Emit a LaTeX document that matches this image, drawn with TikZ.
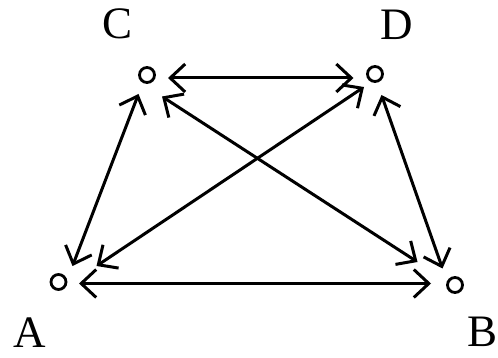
\documentclass[tikz,border=0pt]{standalone}
\usepackage{fontspec}
\setmainfont{Liberation Serif}
\usetikzlibrary{arrows.meta}
\begin{document}
\begin{tikzpicture}[x=1pt,y=-1pt,
  pt/.style={circle,draw,line width=2.8pt,minimum size=15pt,inner sep=0pt},
  lbl/.style={font=\fontsize{45}{45}\selectfont,inner sep=0pt},
  tip/.style={Straight Barb[length=15pt,width=28pt,line width=3pt]},
  link/.style={line width=3pt,{Straight Barb[length=15pt,width=28pt,line width=3pt]}-{Straight Barb[length=15pt,width=28pt,line width=3pt]}}]
\useasboundingbox (0,0) rectangle (498,358);
\node[pt] (A) at (58.5,282) {};
\node[pt] (B) at (455,285) {};
\node[pt] (C) at (147,75) {};
\node[pt] (D) at (375,74) {};
\node[lbl] (lA) at (30,333) {A};
\node[lbl] (lB) at (483,332) {B};
\node[lbl] (lC) at (118,24) {C};
\node[lbl] (lD) at (397,25) {D};
\coordinate (ab1) at (79,283.5);
\coordinate (ab2) at (431,283.5);
\coordinate (cd1) at (168,78);
\coordinate (cd2) at (353.5,78);
\coordinate (ac1) at (72.5,266);
\coordinate (ac2) at (138.5,94);
\coordinate (ad1) at (96.5,266);
\coordinate (ad2) at (364,87);
\coordinate (cb1) at (162,96.5);
\coordinate (cb2) at (417.5,262);
\coordinate (db1) at (381.5,95);
\coordinate (db2) at (442.5,268.5);
\draw[link] (ab1) -- (ab2);
\draw[link] (cd1) -- (cd2);
\draw[link] (ac1) -- (ac2);
\draw[link] (ad1) -- (ad2);
\draw[link] (cb1) -- (cb2);
\draw[link] (db1) -- (db2);
\end{tikzpicture}
\end{document}
